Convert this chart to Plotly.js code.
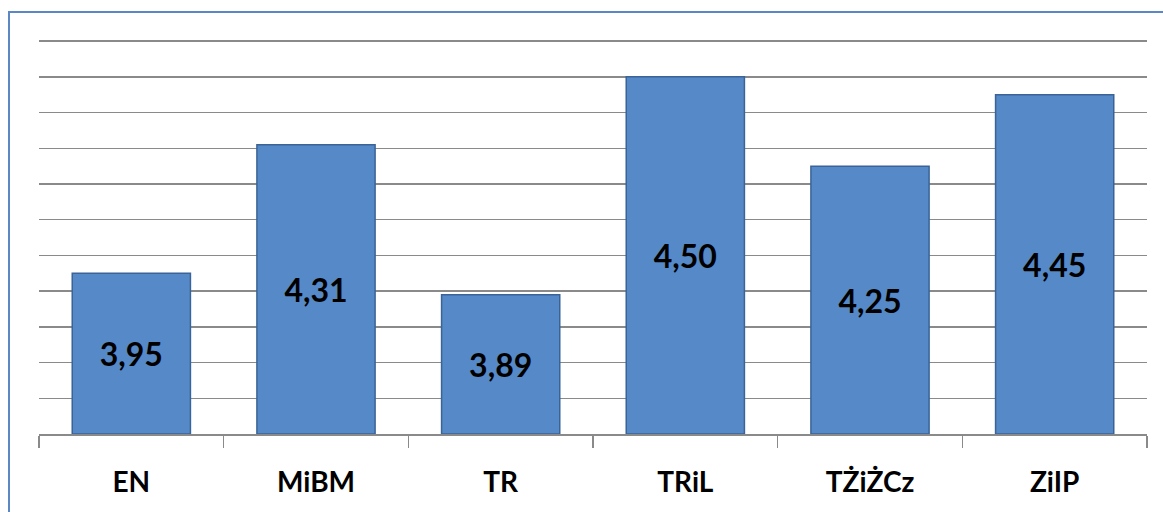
<!DOCTYPE html>
<html>
<head>
<meta charset="utf-8">
<script src="https://cdn.plot.ly/plotly-3.0.1.min.js"></script>
<style>
html,body{margin:0;padding:0;background:#fff;}
#wrap{position:relative;width:1163px;height:512px;overflow:hidden;}
#chart{position:absolute;left:0;top:0;width:1163px;height:512px;}
#frame{position:absolute;left:8px;top:11px;width:1200px;height:600px;border-left:2px solid #5B87C5;border-top:2px solid #5B87C5;pointer-events:none;}
</style>
</head>
<body>
<div id="wrap"><div id="chart"></div><div id="frame"></div></div>
<script>
const categories = ['EN', 'MiBM', 'TR', 'TRiL', 'TŻiŻCz', 'ZiIP'];
const values = [3.95, 4.31, 3.89, 4.50, 4.25, 4.45];
const yMin = 3.5, yMax = 4.62, yStep = 0.1;

const trace = {
  type: 'bar',
  x: categories,
  y: values.map(v => v - yMin),
  base: yMin,
  customdata: values,
  width: 0.64,
  marker: {
    color: '#5689C8',
    line: {color: '#3A6397', width: 1.5}
  },
  texttemplate: '%{customdata:.2f}',
  textposition: 'inside',
  insidetextanchor: 'middle',
  textangle: 0,
  textfont: {family: 'Lato, "Open Sans", sans-serif', size: 32, color: '#000', weight: 'bold'},
  hoverinfo: 'skip'
};

const layout = {
  width: 1163, height: 512,
  margin: {l: 39, r: 16, t: 34, b: 78},
  paper_bgcolor: '#fff', plot_bgcolor: '#fff',
  separators: ', ',
  showlegend: false,
  xaxis: {
    type: 'category',
    tickson: 'boundaries',
    ticks: 'outside', ticklen: 12, tickwidth: 1.5, tickcolor: '#8a8a8a',
    showline: true, linecolor: '#8a8a8a', linewidth: 1.5,
    showgrid: false,
    ticklabelstandoff: 23,
    tickfont: {family: 'Lato, "Open Sans", sans-serif', size: 28, color: '#000', weight: 'bold'}
  },
  yaxis: {
    range: [yMin, yMax],
    dtick: yStep, tick0: yMin,
    showticklabels: false,
    ticks: '',
    showgrid: true, gridcolor: '#8a8a8a', gridwidth: 1.5,
    zeroline: false, showline: false
  }
};

Plotly.newPlot('chart', [trace], layout, {staticPlot: true, displayModeBar: false});
</script>
</body>
</html>
